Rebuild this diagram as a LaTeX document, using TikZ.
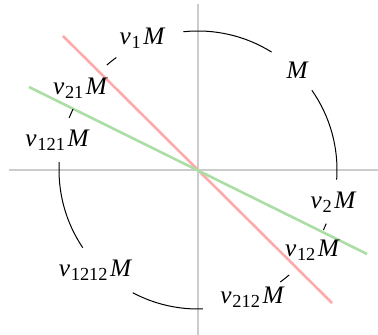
\documentclass[tikz,border=0pt]{standalone}
\usepackage{fontspec}
\setmainfont{Liberation Serif}
\usetikzlibrary{calc}
\newcommand\orbl[1]{\itshape ν\kern0.03em\raisebox{-0.35ex}{\upshape\fontsize{9.2}{9.2}\selectfont #1}\kern0.1em M}
\begin{document}
\begin{tikzpicture}[x=0.5pt,y=0.5pt,
  axis/.style={draw=black!20,line width=0.75pt},
  mirror/.style={line width=1.3pt},
  orb/.style={draw=black,line width=0.5pt},
  lab/.style={inner sep=0pt,font=\fontsize{12.6}{14}\selectfont}]
\useasboundingbox (0,0) rectangle (378,335);
\coordinate (O) at (198,165);
% axes
\coordinate (xl) at (9,165);
\coordinate (xr) at (378,165);
\coordinate (yb) at (198,0);
\coordinate (yt) at (198,331);
\draw[axis] (xl) -- (xr);
\draw[axis] (yb) -- (yt);
% mirror lines
\coordinate (r1) at (63,299);
\coordinate (r2) at (332,32);
\coordinate (g1) at (29,248);
\coordinate (g2) at (367,81);
\draw[mirror,draw={rgb,255:red,255;green,170;blue,170}] (r1) -- (r2);
\draw[mirror,draw={rgb,255:red,170;green,222;blue,165}] (g1) -- (g2);
% labels
\node[lab] (m)     at ($(O)+(99,100)$) {\itshape M};
\node[lab] (v1)    at ($(O)+(-56,132)$) {\orbl{1}};
\node[lab] (v21)   at ($(O)+(-118,82)$) {\orbl{21}};
\node[lab] (v121)  at ($(O)+(-141,30)$) {\orbl{121}};
\node[lab] (v1212) at ($(O)+(-103,-100)$) {\orbl{1212}};
\node[lab] (v212)  at ($(O)+(54,-127)$) {\orbl{212}};
\node[lab] (v12)   at ($(O)+(114,-80)$) {\orbl{12}};
\node[lab] (v2)    at ($(O)+(135,-32)$) {\orbl{2}};
% orbit arcs
\def\R{139}
\foreach \a/\b in {96/58, 35/-4, -22.7/-25.6, -49/-53.7, -88/-118, 214/176.7, 158/154, 131/126}
  \draw[orb] ($(O)+(\a:\R)$) arc[start angle=\a, end angle=\b, radius=\R];
\end{tikzpicture}
\end{document}
